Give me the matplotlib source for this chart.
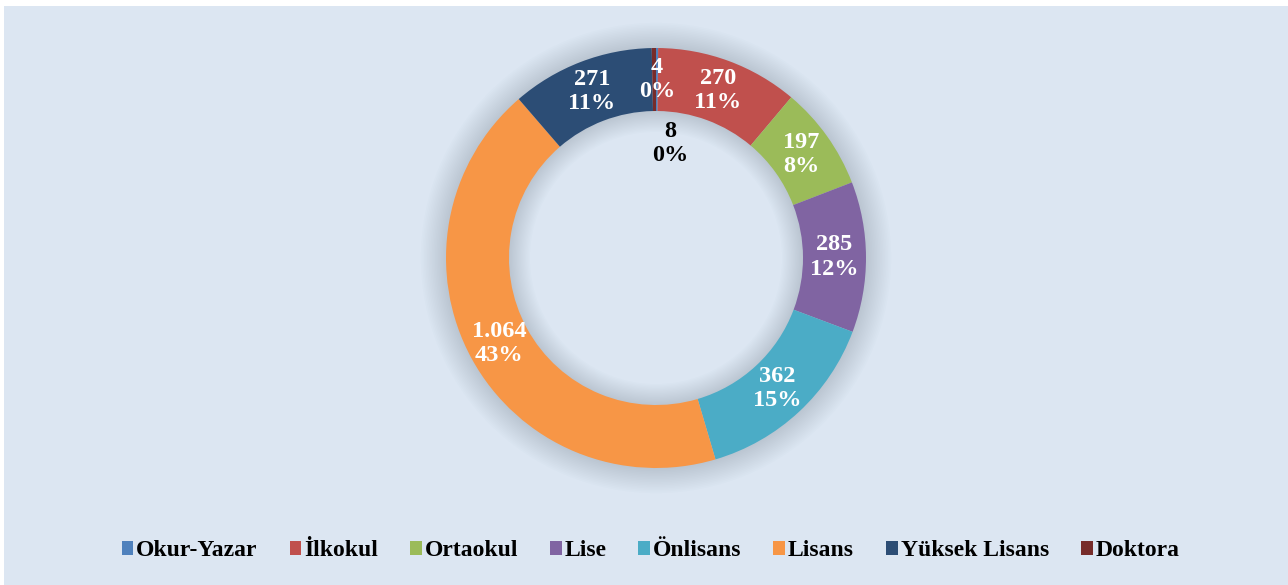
import matplotlib
matplotlib.use("Agg")
import matplotlib.pyplot as plt
from matplotlib.patches import Wedge, Rectangle, Patch
import numpy as np

categories = ["Okur-Yazar", "İlkokul", "Ortaokul", "Lise", "Önlisans", "Lisans", "Yüksek Lisans", "Doktora"]
values = [4, 270, 197, 285, 362, 1064, 271, 8]
colors = ["#4F81BD", "#C0504D", "#9BBB59", "#8064A2", "#4BACC6", "#F79646", "#2C4D75", "#772C2A"]

plt.rcParams['font.family'] = ['Liberation Serif', 'DejaVu Serif']
plt.rcParams['font.weight'] = 'bold'

W, H = 1288, 585
fig = plt.figure(figsize=(W / 100, H / 100), dpi=100)
fig.patch.set_facecolor("white")
fig.patches.append(Rectangle((4 / W, 0), 1 - 4 / W, (H - 6) / H, transform=fig.transFigure,
                             facecolor="#DCE6F2", edgecolor="none", zorder=-10))

cx, cy, R = 656, 258, 210
half = 1.3 * R
ax = fig.add_axes([(cx - half) / W, (H - cy - half) / H, 2 * half / W, 2 * half / H])

inner = 0.70
# soft shadow / glow
n = 16
for k in range(n):
    ro = 1.0 + 0.12 * (k + 1) / n
    ri = inner - 0.10 * (k + 1) / n
    ax.add_patch(Wedge((0, 0), ro, 0, 360, width=ro - ri, facecolor="#5C6E8C",
                       edgecolor="none", alpha=0.016, zorder=1))

wedges, _ = ax.pie(values, colors=colors, startangle=90, counterclock=False, radius=1.0,
                   wedgeprops=dict(width=1 - inner, linewidth=0, edgecolor="none", antialiased=True))
for w in wedges:
    w.set_zorder(3)

ax.set_xlim(-1.3, 1.3)
ax.set_ylim(-1.3, 1.3)
ax.set_aspect("equal")
ax.axis("off")

total = sum(values)

def fmt_num(v):
    return f"{v:,}".replace(",", ".")

cum = 0
mid_r = (1 + inner) / 2
for i, (cat, v) in enumerate(zip(categories, values)):
    mid = (cum + v / 2) / total
    cum += v
    theta = np.deg2rad(90 - 360 * mid)
    pct = round(100 * v / total)
    txt = f"{fmt_num(v)}\n{pct}%"
    if cat == "Doktora":
        x, y = 0.067, 0.545
        col = "black"
    else:
        x, y = mid_r * np.cos(theta), mid_r * np.sin(theta)
        col = "white"
    ax.text(x, y, txt, ha="center", va="center", color=col, fontsize=17.5,
            fontweight="bold", linespacing=1.22, zorder=5)

handles = [Patch(facecolor=c, edgecolor="none") for c in colors]
fig.legend(handles, categories, loc="center", bbox_to_anchor=(0.505, (H - 551) / H), ncol=8,
           frameon=False, prop=dict(size=17, weight="bold"), handlelength=0.5, handleheight=0.5,
           handletextpad=0.12, columnspacing=1.35)

fig.savefig("out.png", dpi=100)
